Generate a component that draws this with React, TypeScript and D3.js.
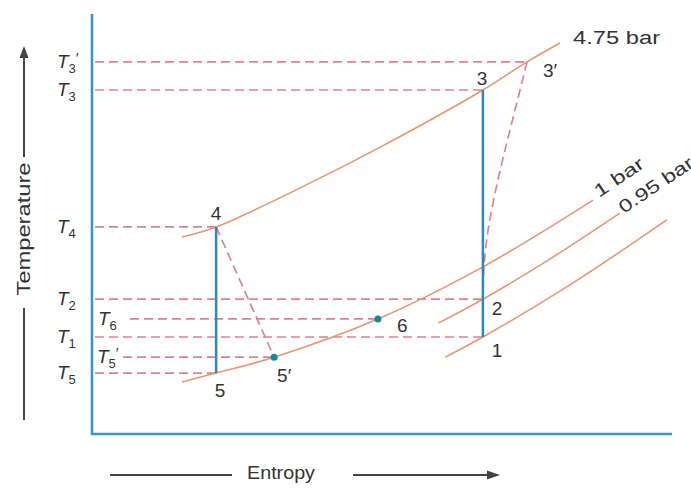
import React from "react";
import * as d3 from "d3";

const W = 691;
const H = 489;

// State points (entropy, temperature) in arbitrary diagram units 0–100
const stateNames = ["1", "2", "3", "3′", "4", "5", "5′", "6"];
const stateEntropy = [67.4, 67.4, 67.4, 75.0, 21.4, 21.4, 31.4, 49.3];
const stateTemperature = [23.1, 32.1, 81.9, 88.6, 49.3, 14.5, 18.3, 27.4];

// Constant-pressure lines
const isobar475S = [15.5, 21.4, 35.9, 49.7, 67.4, 75.0, 80.7];
const isobar475T = [46.9, 49.3, 58.6, 68.3, 81.9, 88.6, 93.1];
const isobar1S = [15.5, 21.4, 31.4, 49.3, 67.4, 86.4];
const isobar1T = [12.4, 14.5, 18.3, 27.4, 39.8, 55.7];
const isobar095S = [59.7, 67.4, 79.0, 91.0];
const isobar095T = [26.4, 32.1, 41.7, 52.6];
const isobarLowS = [60.9, 67.4, 82.4, 99.1];
const isobarLowT = [18.3, 23.1, 35.5, 51.0];

// Actual (irreversible) expansion 3' -> 2
const expansionS = [75.0, 73.1, 71.2, 69.5, 68.3, 67.6, 67.4];
const expansionT = [88.6, 78.0, 67.6, 57.4, 48.6, 40.2, 32.1];

// Temperature level labels
const levelSubscripts = ["3", "3", "4", "2", "6", "1", "5", "5"];
const levelPrimes = [true, false, false, false, false, false, true, false];
const levelStates = ["3′", "3", "4", "2", "6", "1", "5′", "5"];

const isentropicPairs = [["4", "5"], ["3", "1"]];
const dashedPairs = [["4", "5′"]];
const dotStates = ["5′", "6"];
const isobarLabels = ["4.75 bar", "1 bar", "0.95 bar"];
const xTitle = "Entropy";
const yTitle = "Temperature";

// ---- styles / layout ----
const FONT = "'Liberation Sans', Arial, Helvetica, sans-serif";
const AXIS_COLOR = "#3b97bb";
const PROC_COLOR = "#2e88b8";
const CURVE_COLOR = "#e99670";
const DASH_COLOR = "#d7839b";
const DOT_COLOR = "#14889c";
const TEXT_COLOR = "#333333";

const labelOffsets: Record<string, { dx: number; dy: number; anchor: string }> = {
  "1": { dx: 14, dy: 20, anchor: "middle" },
  "2": { dx: 14, dy: 16, anchor: "middle" },
  "3": { dx: -1, dy: -5, anchor: "middle" },
  "3′": { dx: 16, dy: 15, anchor: "start" },
  "4": { dx: 0, dy: -7, anchor: "middle" },
  "5": { dx: 4, dy: 24, anchor: "middle" },
  "5′": { dx: 3, dy: 25, anchor: "start" },
  "6": { dx: 19, dy: 13, anchor: "start" },
};
const levelLabelX: Record<string, number> = { "6": 98, "5′": 97 };
const levelLineStart: Record<string, number> = { "6": 130, "5′": 123 };

export default function App() {
  const x = d3.scaleLinear().domain([0, 100]).range([92, 672]);
  const y = d3.scaleLinear().domain([0, 100]).range([434, 14]);

  const idx = (n: string) => stateNames.indexOf(n);
  const px = (n: string) => x(stateEntropy[idx(n)]);
  const py = (n: string) => y(stateTemperature[idx(n)]);

  const line = d3
    .line<[number, number]>()
    .x((d) => x(d[0]))
    .y((d) => y(d[1]))
    .curve(d3.curveCatmullRom.alpha(0.5));

  const zip = (a: number[], b: number[]) => a.map((v, i) => [v, b[i]] as [number, number]);

  const isobars = [
    zip(isobar475S, isobar475T),
    zip(isobar1S, isobar1T),
    zip(isobar095S, isobar095T),
    zip(isobarLowS, isobarLowT),
  ];

  const end475 = [x(isobar475S[isobar475S.length - 1]), y(isobar475T[isobar475T.length - 1])];
  const end1 = [x(isobar1S[isobar1S.length - 1]), y(isobar1T[isobar1T.length - 1])];
  const end095 = [x(isobar095S[isobar095S.length - 1]), y(isobar095T[isobar095T.length - 1])];

  return (
    <svg
      width={W}
      height={H}
      style={{ position: "absolute", left: 0, top: 0, background: "#fff", display: "block" }}
      fontFamily={FONT}
    >
      <rect width={W} height={H} fill="#fff" />

      {/* temperature level dashed lines */}
      {levelStates.map((s, i) => (
        <line
          key={"lv" + i}
          x1={levelLineStart[s] ?? x(0) + 3}
          x2={px(s)}
          y1={py(s)}
          y2={py(s)}
          stroke={DASH_COLOR}
          strokeWidth={1.7}
          strokeDasharray="9,5"
        />
      ))}

      {/* isobars */}
      {isobars.map((d, i) => (
        <path key={"iso" + i} d={line(d) || ""} fill="none" stroke={CURVE_COLOR} strokeWidth={1.6} />
      ))}

      {/* irreversible expansion 3' -> 2 */}
      <path
        d={line(zip(expansionS, expansionT)) || ""}
        fill="none"
        stroke={DASH_COLOR}
        strokeWidth={1.7}
        strokeDasharray="9,5"
      />
      {dashedPairs.map(([a, b], i) => (
        <line
          key={"dp" + i}
          x1={px(a)}
          y1={py(a)}
          x2={px(b)}
          y2={py(b)}
          stroke={DASH_COLOR}
          strokeWidth={1.7}
          strokeDasharray="9,5"
        />
      ))}

      {/* isentropic processes */}
      {isentropicPairs.map(([a, b], i) => (
        <line
          key={"ip" + i}
          x1={px(a)}
          y1={py(a)}
          x2={px(b)}
          y2={py(b)}
          stroke={PROC_COLOR}
          strokeWidth={2.5}
        />
      ))}

      {/* dots */}
      {dotStates.map((s) => (
        <circle key={"dot" + s} cx={px(s)} cy={py(s)} r={3.5} fill={DOT_COLOR} />
      ))}

      {/* axes */}
      <line x1={x(0)} x2={x(0)} y1={y(100)} y2={y(0) + 1} stroke={AXIS_COLOR} strokeWidth={2.6} />
      <line x1={x(0) - 1} x2={x(100)} y1={y(0)} y2={y(0)} stroke={AXIS_COLOR} strokeWidth={2.6} />

      {/* state labels */}
      {stateNames.map((n) => {
        const o = labelOffsets[n];
        return (
          <text
            key={"sl" + n}
            x={px(n) + o.dx}
            y={py(n) + o.dy}
            textAnchor={o.anchor}
            fontSize={19}
            fill={TEXT_COLOR}
          >
            {n}
          </text>
        );
      })}

      {/* temperature level labels */}
      {levelStates.map((s, i) => (
        <text
          key={"ll" + i}
          x={levelLabelX[s] ?? 57}
          y={py(s) + 6}
          fontSize={19}
          fontStyle="italic"
          fill={TEXT_COLOR}
        >
          T
          <tspan fontSize={13} dy={5} fontStyle="normal">
            {levelSubscripts[i]}
          </tspan>
          {levelPrimes[i] ? (
            <tspan fontSize={15} dy={-10} fontStyle="normal">
              ′
            </tspan>
          ) : null}
        </text>
      ))}

      {/* isobar labels */}
      <text
        x={end475[0] + 13}
        y={end475[1] + 1}
        fontSize={18}
        fill={TEXT_COLOR}
        textLength={87}
        lengthAdjust="spacingAndGlyphs"
      >
        {isobarLabels[0]}
      </text>
      <text
        transform={`translate(${end1[0] + 6},${end1[1] - 2}) rotate(-34)`}
        fontSize={18}
        fill={TEXT_COLOR}
        textLength={56}
        lengthAdjust="spacingAndGlyphs"
      >
        {isobarLabels[1]}
      </text>
      <text
        transform={`translate(${end095[0] + 4},${end095[1] + 1}) rotate(-34)`}
        fontSize={18}
        fill={TEXT_COLOR}
        textLength={86}
        lengthAdjust="spacingAndGlyphs"
      >
        {isobarLabels[2]}
      </text>

      {/* axis titles with arrows */}
      <text
        transform="translate(30,229) rotate(-90)"
        textAnchor="middle"
        fontSize={18}
        fill={TEXT_COLOR}
        textLength={133}
        lengthAdjust="spacingAndGlyphs"
      >
        {yTitle}
      </text>
      <line x1={24} x2={24} y1={157} y2={55} stroke="#444" strokeWidth={2} />
      <polygon points="24,46 19.5,58 28.5,58" fill="#444" />
      <line x1={24} x2={24} y1={308} y2={420} stroke="#444" strokeWidth={2} />

      <text
        x={281}
        y={479}
        textAnchor="middle"
        fontSize={18}
        fill={TEXT_COLOR}
        textLength={68}
        lengthAdjust="spacingAndGlyphs"
      >
        {xTitle}
      </text>
      <line x1={110} x2={232} y1={475} y2={475} stroke="#444" strokeWidth={2} />
      <line x1={353} x2={489} y1={475} y2={475} stroke="#444" strokeWidth={2} />
      <polygon points="500,475 487,470.5 487,479.5" fill="#444" />
    </svg>
  );
}
